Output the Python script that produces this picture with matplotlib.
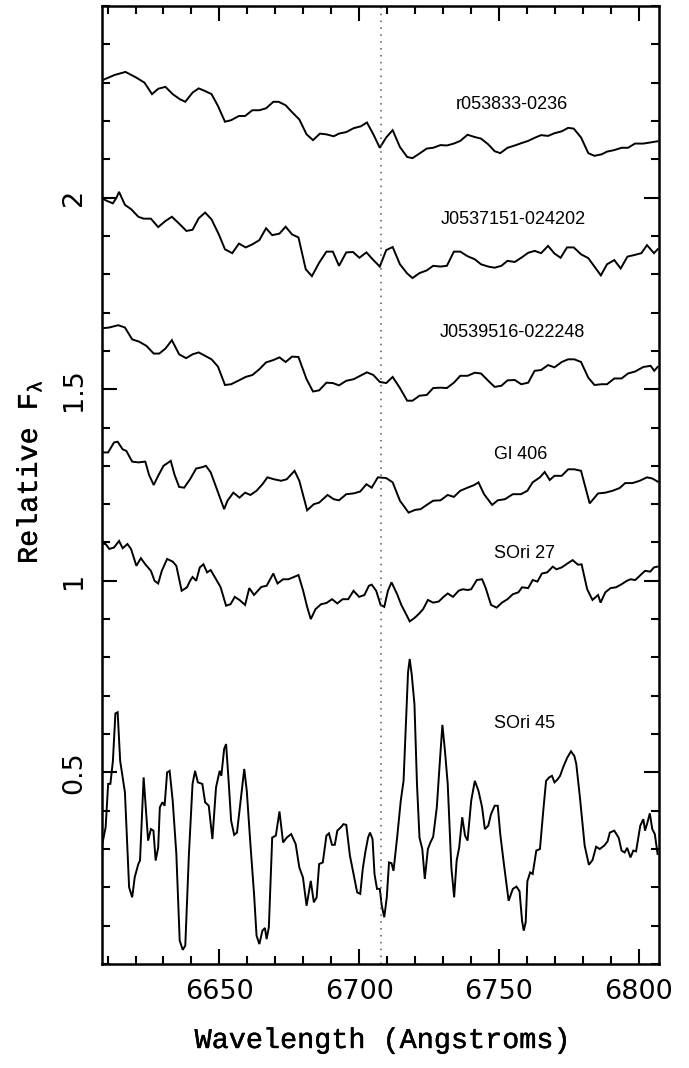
import matplotlib
matplotlib.use('Agg')
import matplotlib.pyplot as plt
import matplotlib.patheffects as pe
from matplotlib.ticker import MultipleLocator, FixedLocator

plt.rcParams['mathtext.fontset'] = 'custom'
plt.rcParams['mathtext.rm'] = 'Liberation Mono'
plt.rcParams['mathtext.it'] = 'Liberation Mono'

# --- spectra (wavelength in Angstroms, relative flux, already offset) ---
wave_r0538 = [6608.0, 6612.5, 6616.4, 6620.3, 6623.2, 6625.9, 6628.1, 6630.7, 6633.3, 6635.8,
              6637.8, 6640.4, 6642.6, 6644.9, 6647.2, 6649.5, 6652.0, 6654.2, 6657.0, 6659.2,
              6661.8, 6664.3, 6666.7, 6669.3, 6671.2, 6673.7, 6676.0, 6678.6, 6681.2, 6683.5,
              6686.0, 6688.3, 6690.9, 6692.8, 6695.4, 6698.0, 6700.6, 6702.8, 6705.1, 6707.4,
              6709.7, 6712.0, 6714.6, 6717.2, 6719.1, 6721.6, 6724.2, 6726.5, 6729.1, 6731.4,
              6733.9, 6736.2, 6738.8, 6741.4, 6743.6, 6746.2, 6748.5, 6750.5, 6753.1, 6755.7,
              6758.0, 6760.5, 6762.8, 6765.1, 6767.6, 6769.9, 6772.5, 6774.8, 6776.8, 6779.4,
              6782.0, 6784.2, 6786.8, 6788.7, 6791.3, 6793.9, 6796.2, 6798.7, 6801.7, 6804.3,
              6806.8]
flux_r0538 = [2.306, 2.320, 2.328, 2.313, 2.300, 2.270, 2.284, 2.289, 2.270, 2.257,
              2.250, 2.274, 2.285, 2.278, 2.270, 2.239, 2.198, 2.202, 2.213, 2.213,
              2.228, 2.228, 2.233, 2.250, 2.250, 2.241, 2.223, 2.204, 2.165, 2.150,
              2.167, 2.165, 2.160, 2.167, 2.171, 2.181, 2.186, 2.196, 2.165, 2.130,
              2.157, 2.176, 2.132, 2.106, 2.103, 2.115, 2.128, 2.130, 2.137, 2.136,
              2.141, 2.148, 2.164, 2.158, 2.154, 2.139, 2.121, 2.116, 2.130, 2.136,
              2.142, 2.148, 2.156, 2.163, 2.161, 2.168, 2.173, 2.182, 2.180, 2.157,
              2.116, 2.109, 2.113, 2.120, 2.124, 2.130, 2.130, 2.141, 2.141, 2.144,
              2.147]

wave_j0537 = [6608.0, 6609.9, 6611.9, 6613.2, 6614.1, 6616.2, 6618.4, 6621.0, 6622.9, 6625.5,
              6628.1, 6630.7, 6633.0, 6635.6, 6638.2, 6640.4, 6642.6, 6644.9, 6647.2, 6649.8,
              6652.0, 6654.6, 6657.0, 6659.4, 6661.8, 6664.3, 6666.7, 6668.9, 6671.5, 6673.7,
              6676.0, 6678.3, 6680.9, 6683.1, 6685.7, 6688.3, 6690.6, 6692.8, 6695.4, 6697.8,
              6700.1, 6702.6, 6705.1, 6707.4, 6709.7, 6712.0, 6714.6, 6717.2, 6719.1, 6721.6,
              6724.2, 6726.5, 6729.1, 6731.4, 6733.9, 6736.2, 6738.8, 6741.4, 6743.6, 6746.2,
              6748.5, 6750.9, 6753.1, 6755.7, 6758.0, 6760.5, 6762.8, 6765.1, 6767.6, 6769.9,
              6772.1, 6774.4, 6776.8, 6779.4, 6782.0, 6784.2, 6786.5, 6788.7, 6791.3, 6793.6,
              6796.0, 6798.4, 6801.0, 6803.0, 6805.5, 6806.8]
flux_j0537 = [1.998, 1.991, 1.985, 2.000, 2.015, 1.981, 1.970, 1.950, 1.945, 1.945,
              1.923, 1.939, 1.950, 1.932, 1.913, 1.916, 1.946, 1.961, 1.943, 1.904,
              1.865, 1.855, 1.880, 1.870, 1.878, 1.889, 1.920, 1.902, 1.906, 1.924,
              1.904, 1.896, 1.813, 1.795, 1.830, 1.859, 1.859, 1.822, 1.857, 1.858,
              1.843, 1.857, 1.837, 1.820, 1.863, 1.871, 1.826, 1.802, 1.790, 1.803,
              1.810, 1.822, 1.820, 1.822, 1.859, 1.859, 1.847, 1.839, 1.826, 1.820,
              1.817, 1.822, 1.835, 1.832, 1.843, 1.856, 1.861, 1.855, 1.874, 1.854,
              1.843, 1.870, 1.870, 1.852, 1.842, 1.820, 1.797, 1.826, 1.837, 1.815,
              1.846, 1.850, 1.855, 1.876, 1.855, 1.865]

wave_j0539 = [6608.0, 6610.6, 6613.8, 6616.2, 6618.8, 6621.3, 6623.9, 6626.5, 6628.5, 6630.7,
              6633.0, 6635.6, 6638.1, 6640.4, 6642.6, 6644.9, 6647.2, 6649.5, 6652.0, 6654.2,
              6657.0, 6659.4, 6661.8, 6664.3, 6666.7, 6669.3, 6671.5, 6673.7, 6676.0, 6678.3,
              6681.2, 6683.5, 6685.7, 6688.3, 6690.6, 6692.8, 6695.4, 6698.0, 6700.4, 6702.8,
              6705.1, 6707.4, 6709.7, 6712.0, 6714.6, 6717.2, 6719.1, 6721.6, 6724.2, 6726.5,
              6729.1, 6731.4, 6733.9, 6736.2, 6738.8, 6741.4, 6743.6, 6746.2, 6748.5, 6750.9,
              6753.1, 6755.7, 6758.0, 6760.5, 6762.8, 6765.1, 6767.6, 6769.9, 6772.5, 6774.8,
              6777.0, 6779.4, 6782.0, 6784.2, 6786.8, 6788.7, 6791.3, 6793.9, 6796.2, 6798.7,
              6801.7, 6804.3, 6805.6, 6806.8]
flux_j0539 = [1.659, 1.661, 1.667, 1.661, 1.630, 1.624, 1.613, 1.593, 1.593, 1.606,
              1.628, 1.591, 1.581, 1.591, 1.596, 1.587, 1.578, 1.559, 1.511, 1.513,
              1.523, 1.532, 1.537, 1.552, 1.570, 1.576, 1.583, 1.571, 1.585, 1.584,
              1.526, 1.494, 1.497, 1.517, 1.516, 1.510, 1.522, 1.526, 1.535, 1.544,
              1.537, 1.519, 1.516, 1.532, 1.503, 1.470, 1.470, 1.483, 1.485, 1.503,
              1.504, 1.503, 1.517, 1.535, 1.535, 1.543, 1.541, 1.522, 1.506, 1.509,
              1.523, 1.524, 1.513, 1.517, 1.548, 1.550, 1.563, 1.557, 1.571, 1.578,
              1.578, 1.571, 1.530, 1.511, 1.513, 1.513, 1.528, 1.528, 1.541, 1.546,
              1.558, 1.561, 1.548, 1.558]

wave_gl406 = [6608.0, 6610.2, 6612.3, 6613.6, 6615.4, 6616.7, 6618.8, 6621.0, 6623.5, 6624.8,
              6626.5, 6628.1, 6630.0, 6632.6, 6633.9, 6635.6, 6637.4, 6639.5, 6641.7, 6643.6,
              6645.2, 6646.9, 6649.1, 6651.7, 6652.9, 6655.0, 6657.2, 6659.2, 6661.1, 6663.3,
              6665.4, 6667.2, 6669.5, 6672.1, 6674.1, 6676.9, 6678.6, 6681.4, 6683.8, 6685.7,
              6688.7, 6690.9, 6692.8, 6695.4, 6698.0, 6700.4, 6702.6, 6704.5, 6706.7, 6709.7,
              6712.0, 6714.6, 6717.7, 6720.0, 6722.0, 6724.2, 6726.5, 6729.1, 6731.7, 6733.9,
              6736.2, 6738.8, 6741.2, 6742.7, 6744.7, 6747.6, 6749.6, 6752.2, 6755.0, 6757.9,
              6760.2, 6762.1, 6764.7, 6766.4, 6768.2, 6769.9, 6772.5, 6774.8, 6777.0, 6779.4,
              6782.5, 6785.5, 6788.1, 6790.7, 6793.2, 6795.2, 6797.8, 6800.4, 6803.0, 6804.9,
              6806.8]
flux_gl406 = [1.335, 1.335, 1.361, 1.363, 1.343, 1.339, 1.311, 1.309, 1.311, 1.277,
              1.250, 1.274, 1.300, 1.313, 1.278, 1.245, 1.243, 1.265, 1.293, 1.296,
              1.300, 1.283, 1.239, 1.187, 1.209, 1.230, 1.217, 1.230, 1.224, 1.235,
              1.252, 1.270, 1.265, 1.261, 1.265, 1.287, 1.261, 1.184, 1.200, 1.204,
              1.224, 1.213, 1.210, 1.226, 1.228, 1.233, 1.252, 1.243, 1.270, 1.268,
              1.257, 1.209, 1.178, 1.185, 1.187, 1.198, 1.209, 1.210, 1.224, 1.219,
              1.235, 1.243, 1.250, 1.257, 1.226, 1.198, 1.210, 1.213, 1.226, 1.226,
              1.235, 1.257, 1.270, 1.284, 1.263, 1.274, 1.274, 1.291, 1.291, 1.287,
              1.202, 1.228, 1.230, 1.235, 1.242, 1.255, 1.255, 1.261, 1.270, 1.267,
              1.259]

wave_sori27 = [6608.0, 6609.3, 6610.6, 6612.3, 6614.1, 6615.4, 6617.1, 6618.4, 6620.3, 6621.9,
               6623.5, 6625.5, 6626.8, 6628.1, 6629.4, 6631.3, 6633.3, 6634.6, 6636.5, 6638.4,
               6639.5, 6640.4, 6641.7, 6643.0, 6644.3, 6645.6, 6646.9, 6648.8, 6650.4, 6652.4,
               6654.0, 6655.5, 6657.2, 6659.2, 6660.7, 6662.4, 6665.0, 6666.9, 6669.3, 6670.8,
               6672.8, 6674.7, 6676.7, 6678.3, 6679.9, 6681.4, 6682.7, 6684.4, 6686.4, 6688.3,
               6690.3, 6692.2, 6694.1, 6696.1, 6698.0, 6700.0, 6701.9, 6703.5, 6704.5, 6706.1,
               6707.7, 6709.0, 6710.3, 6711.6, 6713.6, 6715.1, 6716.8, 6718.1, 6719.8, 6721.3,
               6722.9, 6724.6, 6726.5, 6728.5, 6730.2, 6731.7, 6733.6, 6735.6, 6737.1, 6738.8,
               6740.1, 6742.1, 6744.0, 6745.3, 6747.2, 6749.2, 6751.1, 6753.1, 6755.0, 6757.0,
               6758.3, 6760.5, 6762.1, 6763.8, 6765.4, 6767.3, 6769.3, 6770.6, 6772.5, 6774.5,
               6776.4, 6778.3, 6779.6, 6781.6, 6783.5, 6785.5, 6786.4, 6788.1, 6790.0, 6791.9,
               6793.9, 6795.8, 6797.1, 6798.8, 6800.4, 6802.3, 6804.2, 6805.5, 6806.8]
flux_sori27 = [1.097, 1.096, 1.083, 1.087, 1.104, 1.085, 1.096, 1.083, 1.039, 1.059,
               1.043, 1.026, 1.000, 0.993, 1.026, 1.057, 1.050, 1.039, 0.974, 0.983,
               1.000, 1.010, 1.000, 1.035, 1.043, 1.022, 1.028, 1.004, 0.984, 0.935,
               0.939, 0.958, 0.950, 0.937, 0.981, 0.963, 0.984, 0.987, 1.019, 0.993,
               1.004, 1.004, 1.010, 1.015, 0.976, 0.932, 0.900, 0.926, 0.939, 0.942,
               0.952, 0.941, 0.952, 0.952, 0.974, 0.958, 0.963, 0.987, 0.990, 0.974,
               0.937, 0.932, 0.974, 0.996, 0.965, 0.937, 0.913, 0.894, 0.903, 0.913,
               0.926, 0.950, 0.943, 0.946, 0.958, 0.967, 0.958, 0.974, 0.978, 0.976,
               0.978, 1.002, 1.004, 0.981, 0.937, 0.930, 0.943, 0.952, 0.965, 0.970,
               0.983, 0.981, 1.002, 0.998, 1.019, 1.022, 1.037, 1.030, 1.035, 1.045,
               1.054, 1.042, 1.043, 0.978, 0.950, 0.963, 0.943, 0.970, 0.981, 0.983,
               0.991, 1.000, 1.004, 1.002, 1.013, 1.026, 1.024, 1.035, 1.037]

wave_sori45 = [6608.0, 6609.3, 6610.2, 6611.0, 6611.9, 6612.8, 6613.6, 6614.5, 6616.2, 6617.7,
               6618.8, 6619.7, 6621.0, 6621.6, 6622.9, 6624.5, 6625.5, 6626.4, 6627.2, 6628.1,
               6628.7, 6629.6, 6630.4, 6631.3, 6632.2, 6633.3, 6634.6, 6635.8, 6636.9, 6637.8,
               6639.1, 6640.4, 6641.3, 6642.3, 6643.9, 6644.9, 6646.2, 6647.5, 6648.8, 6650.1,
               6650.7, 6651.7, 6652.4, 6653.3, 6654.2, 6655.3, 6656.3, 6657.6, 6658.9, 6659.8,
               6661.1, 6662.4, 6663.3, 6664.3, 6665.4, 6666.3, 6666.9, 6667.7, 6668.9, 6670.2,
               6671.5, 6672.8, 6674.1, 6675.7, 6677.3, 6678.6, 6679.9, 6681.2, 6682.7, 6683.8,
               6684.8, 6685.7, 6687.0, 6688.3, 6689.2, 6690.3, 6691.3, 6692.2, 6693.5, 6694.4,
               6695.4, 6696.7, 6698.0, 6699.3, 6700.4, 6701.3, 6702.2, 6703.2, 6703.9, 6704.8,
               6705.5, 6706.4, 6707.4, 6708.1, 6709.0, 6709.9, 6710.7, 6711.6, 6712.3, 6713.6,
               6714.9, 6715.9, 6716.8, 6717.5, 6718.1, 6718.8, 6719.8, 6720.7, 6721.6, 6722.6,
               6723.5, 6724.6, 6725.5, 6726.5, 6727.8, 6728.9, 6729.8, 6730.7, 6731.7, 6733.0,
               6734.0, 6734.9, 6735.8, 6736.9, 6737.9, 6738.8, 6740.1, 6741.4, 6742.7, 6744.0,
               6745.0, 6746.2, 6747.2, 6748.5, 6749.6, 6750.5, 6751.8, 6753.5, 6755.0, 6756.3,
               6757.4, 6758.3, 6758.9, 6759.6, 6760.2, 6761.2, 6762.1, 6763.4, 6764.7, 6766.0,
               6766.9, 6768.0, 6769.0, 6769.9, 6770.8, 6771.9, 6773.2, 6774.5, 6775.8, 6777.0,
               6777.7, 6779.0, 6780.7, 6782.2, 6783.5, 6784.8, 6786.1, 6787.7, 6788.9, 6789.7,
               6791.3, 6792.9, 6793.9, 6795.0, 6795.9, 6797.1, 6798.1, 6799.1, 6800.6, 6801.7,
               6802.3, 6803.2, 6804.0, 6804.9, 6805.8, 6806.8]
flux_sori45 = [0.309, 0.357, 0.470, 0.470, 0.530, 0.654, 0.657, 0.530, 0.448, 0.200,
               0.174, 0.226, 0.261, 0.270, 0.487, 0.322, 0.352, 0.348, 0.270, 0.304,
               0.409, 0.422, 0.413, 0.500, 0.504, 0.426, 0.287, 0.061, 0.037, 0.048,
               0.287, 0.470, 0.504, 0.474, 0.470, 0.422, 0.413, 0.326, 0.461, 0.504,
               0.491, 0.561, 0.574, 0.478, 0.374, 0.337, 0.343, 0.426, 0.509, 0.452,
               0.313, 0.183, 0.074, 0.052, 0.087, 0.094, 0.065, 0.096, 0.330, 0.335,
               0.398, 0.317, 0.330, 0.339, 0.313, 0.252, 0.226, 0.152, 0.217, 0.161,
               0.174, 0.261, 0.265, 0.335, 0.341, 0.311, 0.311, 0.348, 0.357, 0.365,
               0.363, 0.283, 0.235, 0.187, 0.183, 0.248, 0.291, 0.330, 0.343, 0.326,
               0.235, 0.196, 0.196, 0.152, 0.122, 0.174, 0.265, 0.263, 0.243, 0.330,
               0.426, 0.478, 0.635, 0.761, 0.796, 0.757, 0.678, 0.470, 0.330, 0.300,
               0.222, 0.300, 0.317, 0.332, 0.409, 0.530, 0.624, 0.557, 0.470, 0.252,
               0.174, 0.270, 0.304, 0.383, 0.335, 0.322, 0.426, 0.478, 0.452, 0.409,
               0.352, 0.361, 0.391, 0.413, 0.413, 0.339, 0.261, 0.165, 0.196, 0.202,
               0.190, 0.113, 0.087, 0.109, 0.216, 0.239, 0.235, 0.296, 0.300, 0.409,
               0.478, 0.487, 0.491, 0.474, 0.480, 0.491, 0.517, 0.539, 0.555, 0.543,
               0.522, 0.435, 0.309, 0.259, 0.271, 0.306, 0.300, 0.309, 0.320, 0.343,
               0.348, 0.329, 0.296, 0.291, 0.303, 0.278, 0.296, 0.294, 0.361, 0.378,
               0.348, 0.370, 0.393, 0.352, 0.339, 0.287]

names = ['r053833-0236', 'J0537151-024202', 'J0539516-022248', 'Gl 406', 'SOri 27', 'SOri 45']
label_x = [6754.5, 6755.0, 6755.0, 6757.7, 6759.3, 6759.3]
label_y = [2.242, 1.943, 1.647, 1.330, 1.072, 0.627]

li_line = 6708.0
yticks = [0.5, 1.0, 1.5, 2.0]
ytick_labels = ['0.5', '1', '1.5', '2']
xticks = [6650, 6700, 6750, 6800]

spectra = [(wave_r0538, flux_r0538), (wave_j0537, flux_j0537), (wave_j0539, flux_j0539),
           (wave_gl406, flux_gl406), (wave_sori27, flux_sori27), (wave_sori45, flux_sori45)]

fig = plt.figure(figsize=(6.89, 10.68), dpi=100)
ax = fig.add_axes([102 / 689, 1 - 964 / 1068, 557 / 689, 958 / 1068])

for w, f in spectra:
    ax.plot(w, f, color='black', lw=1.4, solid_joinstyle='miter')

ax.axvline(li_line, color='#555555', lw=1.1, linestyle=(0, (1, 3.5)))

for name, tx, ty in zip(names, label_x, label_y):
    ax.text(tx, ty, name, ha='center', va='center', fontsize=13,
            family=['Liberation Sans', 'DejaVu Sans'])

ax.set_xlim(6608, 6807.3)
ax.set_ylim(0, 2.5)

ax.xaxis.set_major_locator(FixedLocator(xticks))
ax.xaxis.set_minor_locator(MultipleLocator(10))
ax.set_yticks(yticks)
ax.set_yticklabels(ytick_labels)
ax.yaxis.set_minor_locator(MultipleLocator(0.1))

ax.tick_params(which='both', direction='in', top=True, right=True, width=1.5, color='black')
ax.tick_params(which='major', length=10.8, pad=10.5, labelsize=19.5)
ax.tick_params(which='minor', length=5.8)
ax.tick_params(axis='y', labelrotation=90)
for lab in ax.get_yticklabels():
    lab.set_va('center')

for sp in ax.spines.values():
    sp.set_linewidth(1.8)

# a touch heavier than plain Liberation Mono, like the original plotting package
thick = [pe.withStroke(linewidth=0.3, foreground='black')]
fig.text(383 / 689, 1 - 1048 / 1068, 'Wavelength (Angstroms)', ha='center', va='baseline',
         fontsize=20.5, family='Liberation Mono', path_effects=thick)
fig.text(37 / 689, 1 - 472 / 1068, r'Relative F$_\lambda$', ha='center', va='baseline',
         rotation=90, rotation_mode='anchor', fontsize=20.5, family='Liberation Mono',
         path_effects=thick)

fig.savefig('out.png', dpi=100)
